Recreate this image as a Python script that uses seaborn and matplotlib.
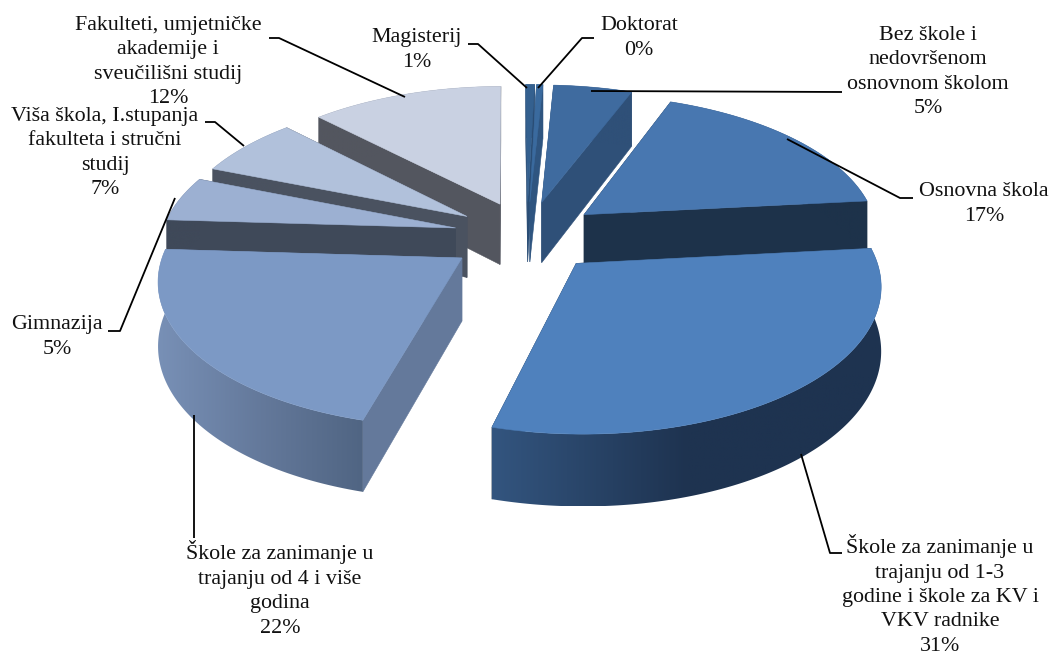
#!/usr/bin/env python3
"""Exploded 3D-look pie of education levels, drawn with polygons on a seaborn figure."""

import matplotlib

matplotlib.use("Agg")
import matplotlib.pyplot as plt
import numpy as np
import seaborn as sns
from matplotlib.patches import Polygon

LABELS = [
    "Bez škole i\nnedovršenom\nosnovnom školom",
    "Osnovna škola",
    "Škole za zanimanje u\ntrajanju od 1-3\ngodine i škole za KV i\nVKV radnike",
    "Škole za zanimanje u\ntrajanju od 4 i više\ngodina",
    "Gimnazija",
    "Viša škola, I.stupanja\nfakulteta i stručni\nstudij",
    "Fakulteti, umjetničke\nakademije i\nsveučilišni studij",
    "Magisterij",
    "Doktorat",
]
SHARES = [4.9, 17.3, 31.0, 21.8, 5.0, 6.6, 12.0, 0.55, 0.4]

TOP_COLORS = ["#3F6B9F", "#4877B0", "#4F81BD", "#7C99C5", "#9CB0D2", "#B1C1DB", "#C9D1E2", "#34608F", "#3A6A9E"]
FACE_COLORS = ["#2F5078", "#1D324A", "#1D324A", "#64799B", "#3F4959", "#4A5260", "#53565F", "#2A4D75", "#2F5580"]
WALL_LEFT = ["#2F5078", "#1D324A", "#33557F", "#7890B6", "#3F4959", "#4A5260", "#53565F", "#2A4D75", "#2F5580"]
WALL_MID = ["#2F5078", "#1D324A", "#1E3350", "#64799B", "#3F4959", "#4A5260", "#53565F", "#2A4D75", "#2F5580"]
WALL_RIGHT = ["#2F5078", "#1D324A", "#1E3350", "#506583", "#3F4959", "#4A5260", "#53565F", "#2A4D75", "#2F5580"]

# label block centre, then leader line points
LABEL_POS = [(928, 72), (984, 204), (940, 595), (280, 589), (57, 337), (105, 153), (168, 62), (417, 50), (639, 38)]
LEADERS = [
    [(842, 92), (591, 91)],
    [(913, 198), (900, 198), (787, 139)],
    [(842, 553), (830, 553), (801, 454)],
    [(194, 415), (194, 538)],
    [(108, 331), (120, 331), (175, 198)],
    [(205, 122), (215, 122), (244, 146)],
    [(269, 38), (279, 38), (405, 97)],
    [(468, 44), (478, 44), (527, 88)],
    [(594, 38), (582, 38), (538, 88)],
]
EXPLODE = [0.25, 0.25, 0.25, 0.265, 0.25, 0.25, 0.25, 0.25, 0.25]

START_DEG = 3.0
CX, CY = 527, 238
RADIUS = 295
FLATTEN = 0.479
PERSP = 0.12
DEPTH = 62
TIP_DROP = -2


def project(x, y, drop=0.0):
    s = 1 / (1 + PERSP * y)
    return CX + RADIUS * x * s, CY - RADIUS * FLATTEN * y * s + drop * DEPTH * s


def slice_points(a0, a1, explode):
    mid = (a0 + a1) / 2
    ox, oy = explode * np.sin(mid), explode * np.cos(mid)
    angles = np.linspace(a0, a1, max(int(np.degrees(a1 - a0) * 2), 4))
    return ox, oy, ox + np.sin(angles), oy + np.cos(angles)


def draw_slice(ax, z, i, a0, a1):
    ox, oy, rx, ry = slice_points(a0, a1, EXPLODE[i])
    tip_x, tip_y = project(ox, oy)
    tip_y = tip_y + TIP_DROP
    tipb_x, tipb_y = project(ox, oy, 1)
    tipb_y = tipb_y + TIP_DROP
    top_x, top_y = project(rx, ry)
    bot_x, bot_y = project(rx, ry, 1)

    for k in (0, -1):
        ax.fill(
            [tip_x, top_x[k], bot_x[k], tipb_x],
            [tip_y, top_y[k], bot_y[k], tipb_y],
            color=FACE_COLORS[i], lw=0.4, zorder=z,
        )

    # outer wall shaded from left to right, clipped to the arc band
    wall = Polygon(
        np.c_[np.r_[top_x, bot_x[::-1]], np.r_[top_y, bot_y[::-1]]],
        closed=True, facecolor="none", edgecolor="none", zorder=z + 0.1,
    )
    ax.add_patch(wall)
    cmap = sns.blend_palette([WALL_LEFT[i], WALL_MID[i], WALL_RIGHT[i]], as_cmap=True)
    image = ax.imshow(
        np.linspace(0, 1, 256)[None, :],
        extent=[top_x.min(), max(top_x.max(), top_x.min() + 1), bot_y.max(), top_y.min()],
        cmap=cmap, aspect="auto", zorder=z + 0.2,
    )
    image.set_clip_path(wall)

    ax.fill(np.r_[tip_x, top_x], np.r_[tip_y, top_y], color=TOP_COLORS[i], lw=0.4, zorder=z + 0.3)


def main() -> None:
    sns.set_theme(style="white")
    plt.rcParams["font.family"] = ["Liberation Serif", "DejaVu Serif"]

    fig = plt.figure(figsize=(10.53, 6.55), dpi=100)
    ax = fig.add_axes([0, 0, 1, 1])

    edges = np.radians(START_DEG) + np.r_[0, np.cumsum(SHARES)] / np.sum(SHARES) * 2 * np.pi
    order = np.argsort(-np.cos((edges[:-1] + edges[1:]) / 2))
    for z, i in enumerate(order):
        draw_slice(ax, z + 1, i, edges[i], edges[i + 1])

    for line in LEADERS:
        xs, ys = zip(*line)
        ax.plot(xs, ys, color="black", lw=1.3, solid_capstyle="butt", zorder=20)

    for label, share, (x, y) in zip(LABELS, SHARES, LABEL_POS):
        ax.text(x, y, f"{label}\n{round(share)}%", ha="center", va="center",
                fontsize=15.8, color="#111111", linespacing=1.39, zorder=21)

    ax.set_xlim(0, 1053)
    ax.set_ylim(655, 0)
    ax.axis("off")
    fig.savefig("out.png", dpi=100)


if __name__ == "__main__":
    main()
